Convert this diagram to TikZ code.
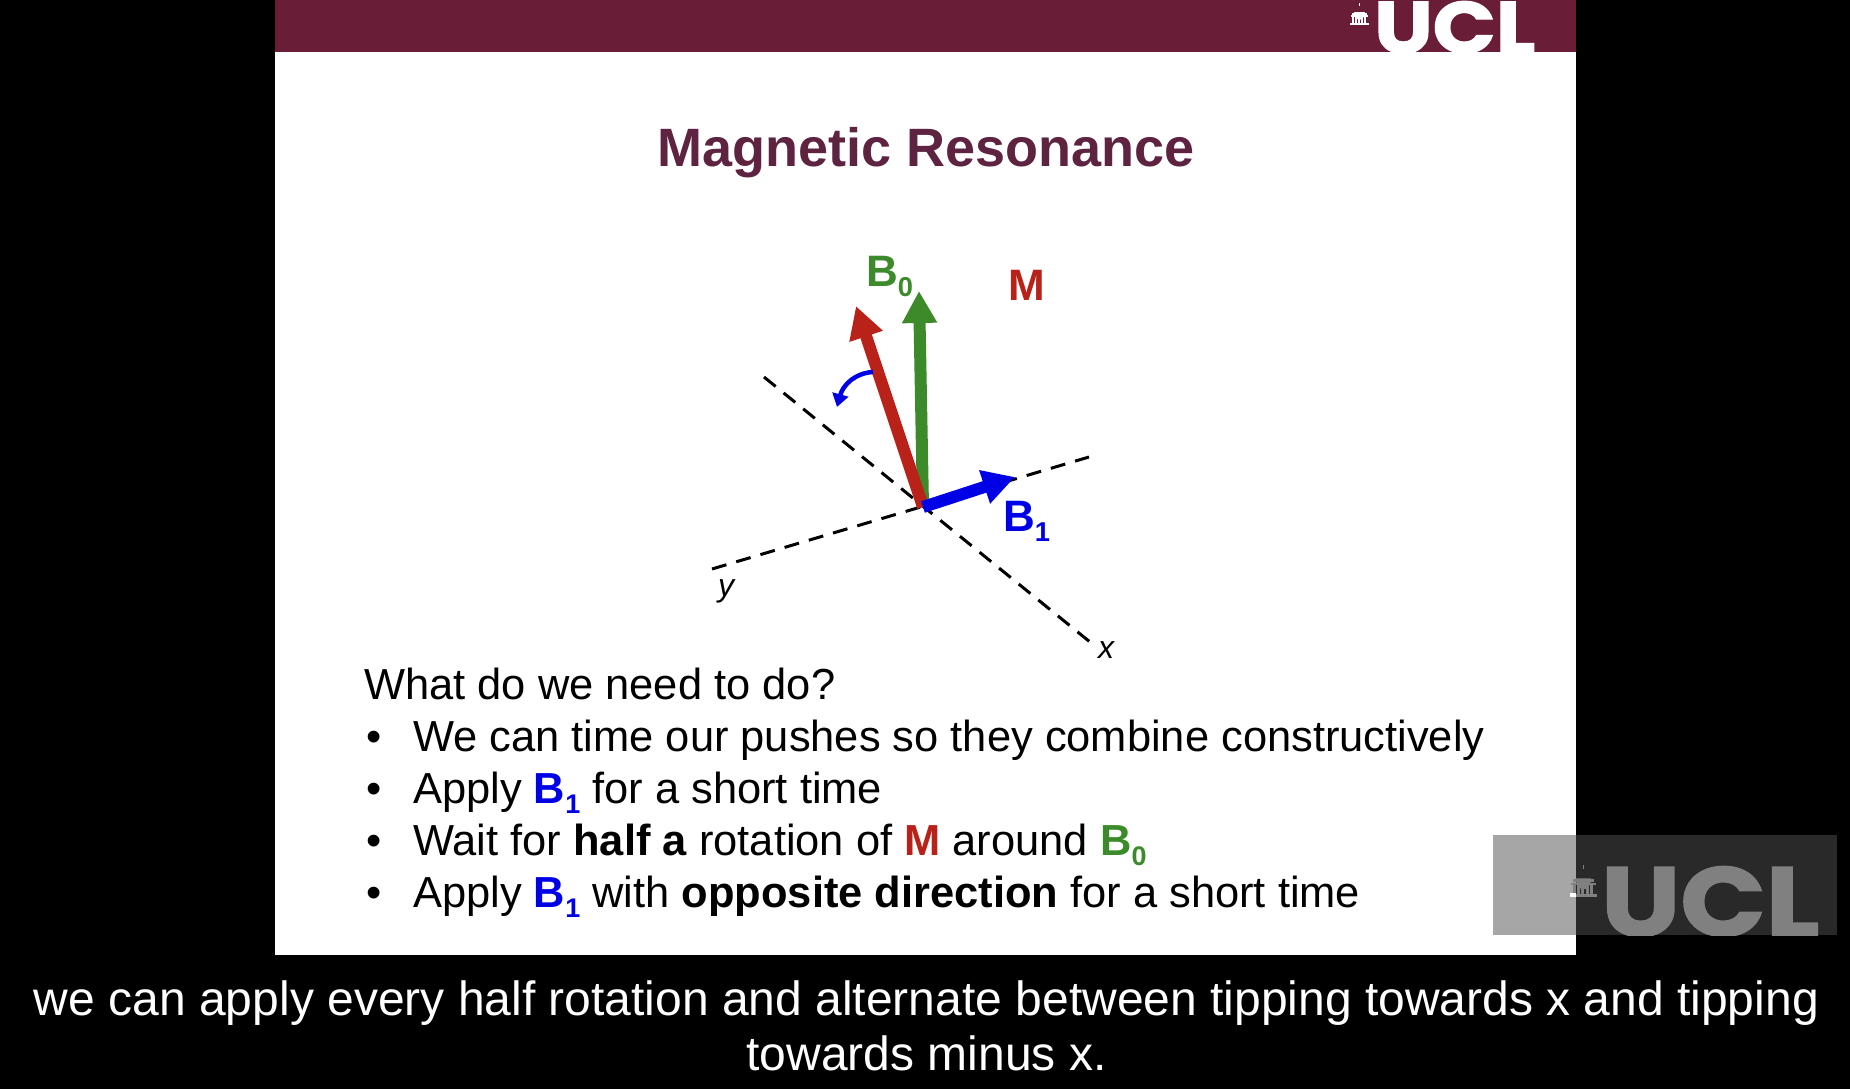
\documentclass[tikz,border=0pt]{standalone}
\usepackage{fontspec}
\setmainfont{Liberation Sans}
\newfontfamily\logofont[BoldFeatures={FakeBold=1.6}]{Poppins}
\usetikzlibrary{arrows.meta}
\definecolor{maroon}{HTML}{6A1D37}
\definecolor{titlecol}{HTML}{5D2340}
\definecolor{bzero}{HTML}{3C8A2A}
\definecolor{bone}{HTML}{0000E6}
\definecolor{mred}{HTML}{B82218}
\newcommand{\fs}[1]{\fontsize{#1}{#1}\selectfont}
\newcommand{\Bz}{\textbf{\textcolor{bzero}{B\raisebox{-0.24em}{\fontsize{0.62em}{1em}\selectfont 0}}}}
\newcommand{\Bo}{\textbf{\textcolor{bone}{B\raisebox{-0.24em}{\fontsize{0.62em}{1em}\selectfont 1}}}}
\newcommand{\Mm}{\textbf{\textcolor{mred}{M}}}
\tikzset{
  x=1pt,y=-1pt,
  body/.style={anchor=base west,inner sep=0pt,font=\fs{43.45}},
  caption/.style={anchor=base,inner sep=0pt,font=\fs{48},text=white},
  lab/.style={anchor=base west,inner sep=0pt,font=\bfseries\fs{44}},
  axis/.style={draw=black,line width=3pt,dash pattern=on 15pt off 10.25pt},
  axlab/.style={anchor=base,inner sep=0pt,font=\itshape\fs{32}},
  pics/ucldome/.style={code={
    \fill[#1] (.47,0) rectangle (.53,.12);
    \fill[#1] (.22,.42) arc[start angle=180,end angle=0,x radius=.28,y radius=.34] -- cycle;
    \fill[#1] (.12,.44) rectangle (.88,.53);
    \fill[#1] (.04,.55) rectangle (.96,.62);
    \foreach \c in {.1,.26,.42,.58,.74}{\fill[#1] (\c,.62) rectangle ++(.11,.28);}
    \fill[#1] (0,.9) rectangle (1,1);
  }},
}
\begin{document}
\begin{tikzpicture}
\useasboundingbox (0,0) rectangle (1850,1089);
\fill[black] (0,0) rectangle (1850,1089);
\fill[white] (275,52) rectangle (1576,955);
\fill[maroon] (275,0) rectangle (1576,52);
% header logo
\node[anchor=base west,inner sep=0pt,text=white,font=\logofont\bfseries\fs{73},xscale=1.135,transform shape] (hlogo) at (1374,53) {UCL};
\pic[xscale=19,yscale=22] at (1350,3) {ucldome=white};
% title
\node[anchor=base,inner sep=0pt,text=titlecol,font=\bfseries\fs{54}] (title) at (926,167) {Magnetic Resonance};
% diagram
\coordinate (o) at (923,507);
\coordinate (xa) at (764,377);
\coordinate (xb) at (1090,642);
\coordinate (ya) at (712,569);
\coordinate (yb) at (1089,457);
\coordinate (tg) at (919,291);
\coordinate (tr) at (856,306);
\coordinate (tb) at (1015,477);
\coordinate (ca) at (873,372);
\coordinate (cb) at (837,407);
\draw[axis] (xa) -- (xb);
\draw[axis] (ya) -- (yb);
\draw[draw=bzero,line width=12pt,{-{Triangle[length=32pt,width=33pt,fill=bzero]}}] (923,507) -- (tg);
\draw[draw=mred,line width=12pt,{-{Triangle[length=32pt,width=33pt,fill=mred]}}] (o) -- (tr);
\draw[draw=bone,line width=12pt,{-{Triangle[length=32pt,width=33pt,fill=bone]}}] (o) -- (tb);
\draw[draw=bone,line width=4.5pt,{-{Triangle[length=13pt,width=16pt,fill=bone]}}] (ca) .. controls (855,373) and (843,385) .. (cb);
\node[lab] (b0) at (866,286) {\Bz};
\node[lab] (m) at (1008,300) {\Mm};
\node[lab] (b1) at (1003,531) {\Bo};
\node[axlab] (ylab) at (726,596) {y};
\node[axlab] (xlab) at (1106,658) {x};
% text
\node[body] (t0) at (364,699) {What do we need to do?};
\foreach \n/\y in {a/751,b/803,c/855,d/907}{\node[body] (bul\n) at (366,\y) {•};}
\node[body] (t1) at (413,751) {We can time our pushes so they combine constructively};
\node[body] (t2) at (413,803) {Apply \Bo{} for a short time};
\node[body] (t3) at (413,855) {Wait for \textbf{half a} rotation of \Mm{} around \Bz};
\node[body] (t4) at (413,907) {Apply \Bo{} with \textbf{opposite direction} for a short time};
% watermark
\fill[black!35] (1493,835) rectangle (1576,935);
\fill[black!84] (1576,835) rectangle (1837,935);
\begin{scope}
  \clip (1493,835) rectangle (1837,935);
  \node[anchor=base west,inner sep=0pt,text=black!50,font=\logofont\bfseries\fs{98},xscale=1.145,transform shape] (wlogo) at (1601,936) {UCL};
\end{scope}
\pic[xscale=27,yscale=32] at (1570,865) {ucldome={black!50}};
\fill[white] (1570,893) rectangle (1576,897);
% caption
\node[caption] (c1) at (926.5,1015) {we can apply every half rotation and alternate between tipping towards x and tipping};
\node[caption] (c2) at (926.5,1070) {towards minus x.};
\end{tikzpicture}
\end{document}
